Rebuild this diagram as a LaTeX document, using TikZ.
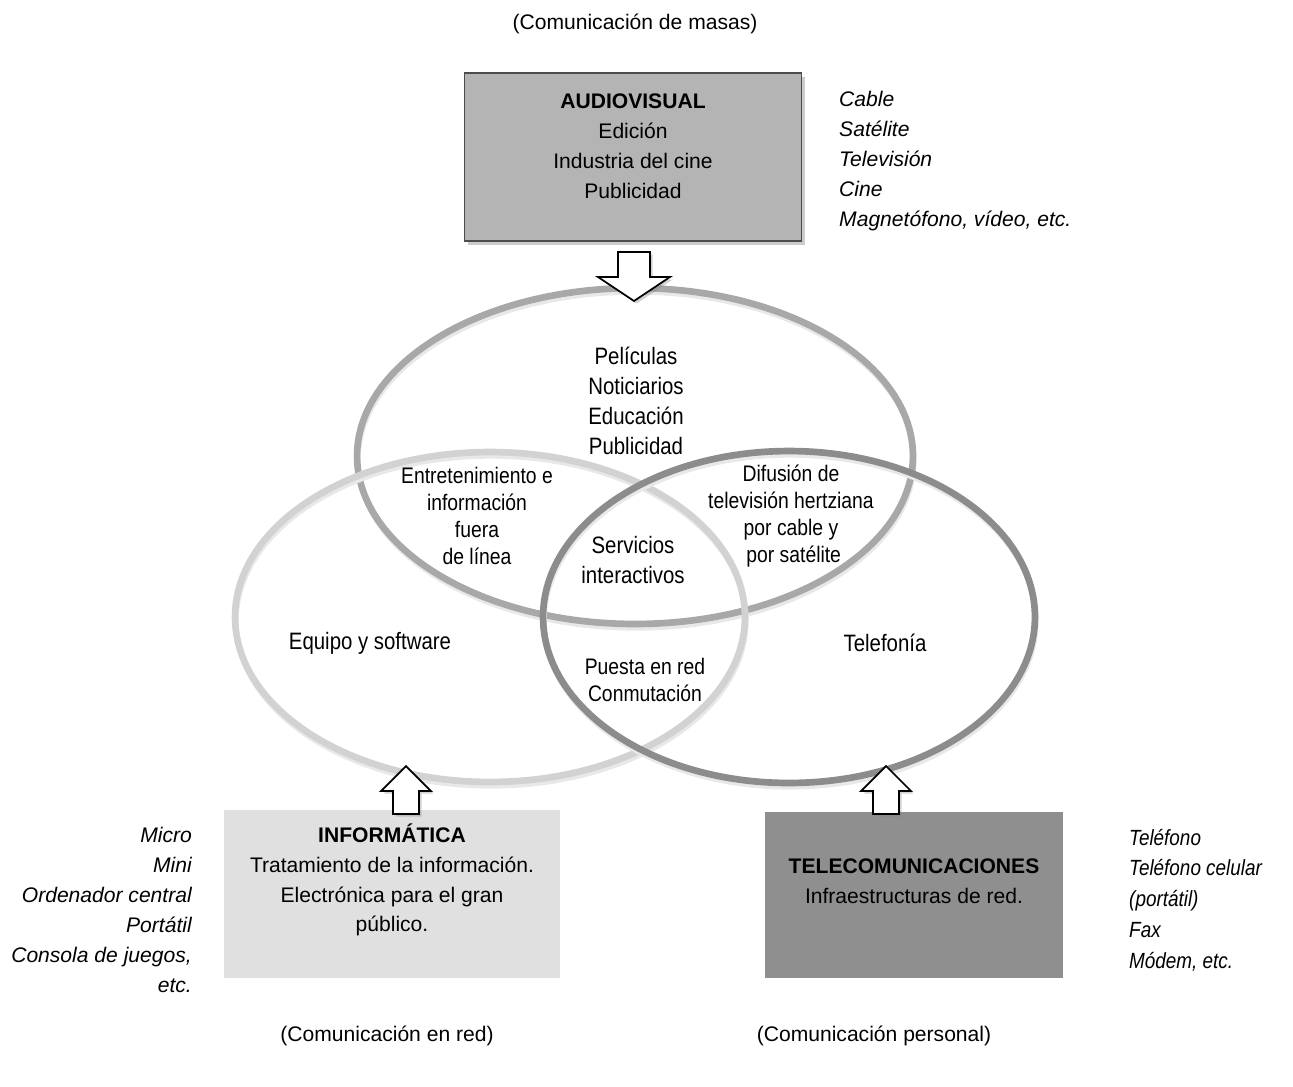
\documentclass[tikz,border=0pt]{standalone}
\usepackage{fontspec}
\setmainfont{Liberation Sans}
\newfontfamily\narrowfont[FakeStretch=0.86]{Liberation Sans}
\usetikzlibrary{shadows}
\definecolor{audiogray}{RGB}{180,180,180}
\definecolor{infogray}{RGB}{224,224,224}
\definecolor{telegray}{RGB}{143,143,143}
\definecolor{ringtop}{RGB}{168,168,168}
\definecolor{ringleft}{RGB}{210,210,210}
\definecolor{ringright}{RGB}{140,140,140}

\begin{document}
\begin{tikzpicture}[x=0.02cm, y=-0.02cm,
        sectorbox/.style={rectangle, inner sep=0pt},
        boxtext/.style={align=center, font=\fontsize{12}{17}\selectfont},
        sidetext/.style={font=\fontsize{12}{17}\selectfont\itshape},
        ringtext/.style={align=center, font=\narrowfont\fontsize{13.5}{17}\selectfont},
        smalltext/.style={align=center, font=\narrowfont\fontsize{12.8}{15.5}\selectfont},
        ring/.style={line width=3.8pt},
        ringshadow/.style={line width=3pt, black!9},
        blockarrow/.style={draw=black, line width=1pt, fill=white, line join=miter,
            drop shadow={shadow xshift=1.5pt, shadow yshift=-1.5pt, opacity=0.35}}]
        \useasboundingbox (0,0) rectangle (1293,1086);

        % boxes
        \node [sectorbox, fill=audiogray, draw=black!70, line width=0.8pt,
            minimum width=6.74cm, minimum height=3.36cm,
            drop shadow={shadow xshift=2pt, shadow yshift=-2pt, opacity=0.4}] (audiovisual) at (633,157) {};
        \node [sectorbox, fill=infogray, minimum width=6.72cm, minimum height=3.36cm] (informatica) at (392,894) {};
        \node [sectorbox, fill=telegray, minimum width=5.96cm, minimum height=3.32cm] (telecom) at (914,895) {};

        \node [boxtext] (audiotext) at (633,146) {\textbf{AUDIOVISUAL}\\Edición\\Industria del cine\\Publicidad};
        \node [boxtext] (infotext) at (392,880) {\textbf{INFORMÁTICA}\\Tratamiento de la información.\\Electrónica para el gran\\público.};
        \node [boxtext] (teletext) at (914,881) {\textbf{TELECOMUNICACIONES}\\Infraestructuras de red.};

        % side lists
        \node [sidetext, align=left, anchor=west] (audiolist) at (833,161) {Cable\\Satélite\\Televisión\\Cine\\Magnetófono, vídeo, etc.};
        \node [sidetext, align=right, anchor=east] (infolist) at (198,910) {Micro\\Mini\\Ordenador central\\Portátil\\Consola de juegos,\\etc.};
        \node [sidetext, font=\narrowfont\itshape\fontsize{12.5}{17.5}\selectfont, align=left, anchor=west] (telelist) at (1123,900) {Teléfono\\Teléfono celular\\(portátil)\\Fax\\Módem, etc.};

        % captions
        \node [boxtext] (masas) at (635,24) {(Comunicación de masas)};
        \node [boxtext] (red) at (387,1036) {(Comunicación en red)};
        \node [boxtext] (personal) at (874,1036) {(Comunicación personal)};

        % rings
        \draw [ringshadow] (636,460) ellipse [x radius=5.56cm, y radius=3.36cm];
        \draw [ring, ringtop] (635,456) ellipse [x radius=5.56cm, y radius=3.36cm];
        \draw [ringshadow] (491,621) ellipse [x radius=5.1cm, y radius=3.3cm];
        \draw [ring, ringleft] (490,617) ellipse [x radius=5.1cm, y radius=3.3cm];
        \draw [ringshadow] (790,621) ellipse [x radius=4.92cm, y radius=3.32cm];
        \draw [ring, ringright] (789,617) ellipse [x radius=4.92cm, y radius=3.32cm];

        % ring labels
        \node [ringtext] (contenido) at (636,401) {Películas\\Noticiarios\\Educación\\Publicidad};
        \node [smalltext] (entretenimiento) at (477,516) {Entretenimiento e\\información\\fuera\\de línea};
        \node [smalltext] (difusion) at (791,516) {Difusión de\\televisión hertziana\\por cable y\\\ por satélite};
        \node [ringtext] (servicios) at (633,560) {Servicios\\interactivos};
        \node [ringtext] (equipo) at (370,643) {Equipo y software};
        \node [ringtext] (telefonia) at (885,643) {Telefonía};
        \node [smalltext] (puesta) at (645,680) {Puesta en red\\Conmutación};

        % block arrows
        \draw [blockarrow, shift={(634,252)}] (-16,0) -- (16,0) -- (16,25) -- (36,25) -- (0,49) -- (-36,25) -- (-16,25) -- cycle;
        \draw [blockarrow, shift={(406,814)}] (-13,0) -- (13,0) -- (13,-23) -- (25,-23) -- (0,-48) -- (-25,-23) -- (-13,-23) -- cycle;
        \draw [blockarrow, shift={(886,814)}] (-13,0) -- (13,0) -- (13,-23) -- (25,-23) -- (0,-48) -- (-25,-23) -- (-13,-23) -- cycle;
    \end{tikzpicture}
\end{document}
